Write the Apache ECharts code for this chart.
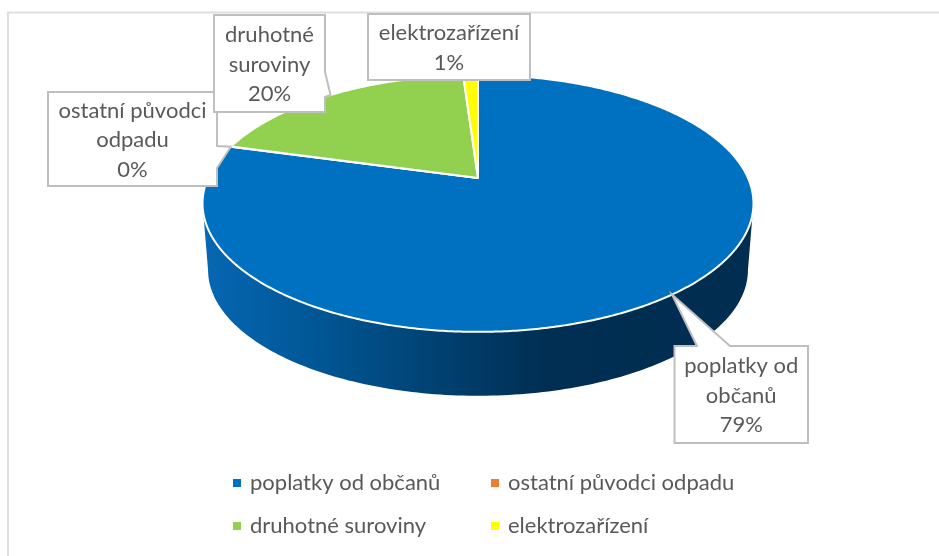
<!DOCTYPE html>
<html><head><meta charset="utf-8">
<style>html,body{margin:0;padding:0;background:#fff}#c{width:939px;height:556px}</style>
<script src="https://cdn.jsdelivr.net/npm/echarts@6/dist/echarts.min.js"></script>
</head><body><div id="c"></div>
<script>
const categories = ['poplatky od občanů','ostatní původci odpadu','druhotné suroviny','elektrozařízení'];
const values = [79.3, 0.05, 19.6, 1.05];
const colors = ['#0070C0','#ED7D31','#92D050','#FFFF00'];

// Projection of the tilted disc (perspective view of the pie)
const apex = [478,178], K = 0.198, A = 123.4, B = 270;
const DEPTH = 67, BOTTOM_SCALE = 0.98;
const total = values.reduce((a,b)=>a+b,0);
function rim(deg, off, s){
  const t = deg*Math.PI/180, u = Math.sin(t), v = Math.cos(t), d = 1+K*v;
  return [apex[0]+(s||1)*B*u/d, apex[1]+(off||0)-(s||1)*A*v/d];
}
function startOf(i){ let c=0; for(let j=0;j<i;j++) c+=values[j]; return c/total*360; }
function endOf(i){ return startOf(i)+values[i]/total*360; }
const WALL_L = 101.4, WALL_R = 258.6;

const wallFill = new echarts.graphic.LinearGradient(203,0,753,0,[
  {offset:0,color:'#0767b3'},{offset:0.2,color:'#005796'},{offset:0.5,color:'#003a66'},
  {offset:0.62,color:'#002f53'},{offset:1,color:'#002d50'}],true);

function sliceItem(params, api){
  const i = params.seriesIndex, a0 = startOf(i), a1 = endOf(i), kids = [];
  const lo = Math.max(a0,WALL_L), hi = Math.min(a1,WALL_R);
  if(hi>lo){
    const pts=[];
    for(let a=lo;a<hi;a+=1) pts.push(rim(a));
    pts.push(rim(hi));
    for(let a=hi;a>lo;a-=1) pts.push(rim(a,DEPTH,BOTTOM_SCALE));
    pts.push(rim(lo,DEPTH,BOTTOM_SCALE));
    kids.push({type:'polygon',z2:1,shape:{points:pts},style:{fill:wallFill}});
  }
  return {type:'group',children:kids};
}
function topItem(params, api){
  const i = params.dataIndex, a0=startOf(i), a1=endOf(i), pts=[apex];
  for(let a=a0;a<a1;a+=0.5) pts.push(rim(a));
  pts.push(rim(a1));
  return {type:'polygon',shape:{points:pts},style:{fill:colors[i],stroke:'#fff',lineWidth:2,lineJoin:'round'}};
}

// Callout boxes: x,y,w,h, where the pointer leaves the box, and where on the slice it lands
const callouts = [
  {box:[674.5,346,133.5,97], side:'top', base:[697,730], at:'mid'},
  {box:[48,92,169,94], side:'right', base:[146,168], at:'start'},
  {box:[214,15,111,97], side:'right', base:[72,97], at:'mid'},
  {box:[368,14,162,66], side:null}
];
const lines = [['poplatky od','občanů'],['ostatní původci','odpadu'],['druhotné','suroviny'],['elektrozařízení']];

function calloutItem(params, api){
  const i = params.dataIndex, c = callouts[i], [x,y,w,h] = c.box;
  let tip = null;
  if(c.side){ tip = c.at==='mid' ? rim((startOf(i)+endOf(i))/2) : rim(startOf(i)); }
  let pts;
  if(c.side==='top') pts=[[x,y],[c.base[0],y],tip,[c.base[1],y],[x+w,y],[x+w,y+h],[x,y+h]];
  else if(c.side==='right') pts=[[x,y],[x+w,y],[x+w,c.base[0]],tip,[x+w,c.base[1]],[x+w,y+h],[x,y+h]];
  else pts=[[x,y],[x+w,y],[x+w,y+h],[x,y+h]];
  const txt = lines[i].concat([Math.round(values[i]/total*100)+'%']);
  const lh = 29.5, top = y+h/2-lh*txt.length/2+1;
  return {type:'group',children:[
    {type:'polygon',shape:{points:pts},style:{fill:'#fff',stroke:'#bfbfbf',lineWidth:2}},
    ...txt.map((t,k)=>({type:'text',z2:5,style:{text:t,x:x+w/2,y:top+lh*k+lh/2,align:'center',verticalAlign:'middle',
       fill:'#595959',font:'22px Lato'}}))
  ]};
}

const legendBase = {orient:'vertical',icon:'rect',itemWidth:8,itemHeight:8,itemGap:21,selectedMode:false,
  textStyle:{color:'#595959',fontFamily:'Lato',fontSize:22,padding:[0,0,0,4]}};

const chart = echarts.init(document.getElementById('c'),null,{renderer:'canvas'});
chart.setOption({
  animation:false,
  backgroundColor:'#fff',
  graphic:[{type:'rect',shape:{x:8,y:12.5,width:1000,height:1000},style:{fill:'none',stroke:'#dfdfdf',lineWidth:2},silent:true}],
  legend:[
    Object.assign({},legendBase,{left:228,top:467,data:[categories[0],categories[2]]}),
    Object.assign({},legendBase,{left:486,top:467,data:[categories[1],categories[3]]})
  ],
  series: categories.map((n,i)=>({name:n,type:'custom',coordinateSystem:'none',z:2,silent:true,
      itemStyle:{color:colors[i]},data:[values[i]],renderItem:sliceItem}))
    .concat([
      {name:'top',type:'custom',coordinateSystem:'none',z:3,silent:true,data:values.slice(),renderItem:topItem},
      {name:'callouts',type:'custom',coordinateSystem:'none',z:4,silent:true,data:values.slice(),renderItem:calloutItem}
    ])
});
</script></body></html>
